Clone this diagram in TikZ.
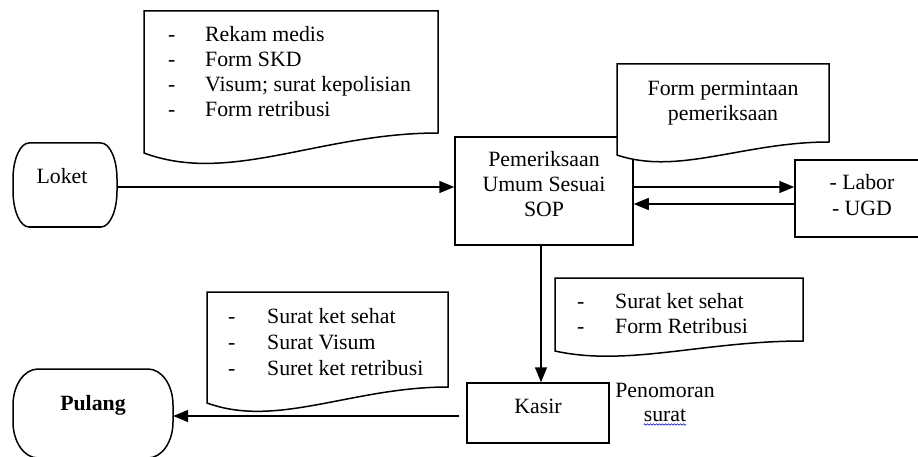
\documentclass[tikz,border=0pt]{standalone}
\usepackage{fontspec}
\setmainfont{Liberation Serif}
\usetikzlibrary{arrows.meta,decorations.pathmorphing,calc}
\begin{document}
\begin{tikzpicture}[x=1pt,y=-1pt,
  txt/.style={inner sep=0pt, font=\fontsize{21.8}{25}\selectfont},
  ctr/.style={txt, anchor=base},
  lft/.style={txt, anchor=base west},
  box/.style={draw, fill=white, line width=1.5pt, inner sep=0pt},
  ghost/.style={inner sep=0pt},
  shapeline/.style={line width=1.5pt, line join=miter, fill=white},
  arr/.style={-{Triangle[length=15pt,width=12pt]}, line width=1.5pt}]
\useasboundingbox (0,0) rectangle (918,457);
\fill[white] (0,0) rectangle (918,457);
\begin{scope}
\clip (0,0) rectangle (918,457);

% ---- Loket (terminator)
\node[ghost, minimum width=104pt, minimum height=84pt] (loket) at (65,185) {};
\draw[shapeline] (29,143) -- (101,143) .. controls (109.8,143) and (117,159.1) .. (117,179)
  -- (117,191) .. controls (117,210.9) and (109.8,227) .. (101,227)
  -- (29,227) .. controls (20.2,227) and (13,210.9) .. (13,191)
  -- (13,179) .. controls (13,159.1) and (20.2,143) .. (29,143) -- cycle;
\node[ctr] (loketT) at (62,184) {Loket};

% ---- Pulang (terminator)
\node[ghost, minimum width=160pt, minimum height=89pt] (pulang) at (93,413.5) {};
\draw[shapeline] (38,369) -- (148,369) .. controls (161.8,369) and (173,385.1) .. (173,405)
  -- (173,422) .. controls (173,441.9) and (161.8,458) .. (148,458)
  -- (38,458) .. controls (24.2,458) and (13,441.9) .. (13,422)
  -- (13,405) .. controls (13,385.1) and (24.2,369) .. (38,369) -- cycle;
\node[ctr, font=\fontsize{21.8}{25}\selectfont\bfseries] (pulangT) at (93,410) {Pulang};

% ---- Pemeriksaan
\node[box, minimum width=178pt, minimum height=108pt] (pem) at (544,191) {};
\node[ctr] (pem1) at (544,167) {Pemeriksaan};
\node[ctr] (pem2) at (544,192) {Umum Sesuai};
\node[ctr] (pem3) at (544,217) {SOP};

% ---- Labor / UGD
\node[box, minimum width=134pt, minimum height=77pt] (labor) at (862,198.5) {};
\node[ctr] (labor1) at (862,190) {- Labor};
\node[ctr] (labor2) at (862,215) {- UGD};

% ---- Kasir
\node[box, minimum width=142pt, minimum height=60pt] (kasir) at (538,413) {};
\node[ctr] (kasirT) at (538,413) {Kasir};

% ---- Penomoran surat
\node[ctr] (penom) at (665,397) {Penomoran};
\node[ctr] (surat) at (665,421) {surat};
\draw[blue!75!black, line width=0.5pt, decorate,
  decoration={snake, amplitude=0.8pt, segment length=3pt}]
  ([yshift=-3.5pt]surat.base west) -- ([yshift=-3.5pt]surat.base east);

% ---- Document 1 (top left)
\draw[shapeline] (144,11) -- (438,11) -- (438,133)
  .. controls (320,133) and (230,185) .. (144,153) -- cycle;
\foreach \yy/\tt [count=\i] in {42/Rekam medis, 67/Form SKD, 92/{Visum; surat kepolisian}, 117/Form retribusi}{
  \node[lft] (d1dash\i) at (168,\yy) {-};
  \node[lft] (d1txt\i) at (205,\yy) {\tt};
}

% ---- Document 2 (Form permintaan), drawn over the Pemeriksaan box
\draw[shapeline] (617,64) -- (829,64) -- (829,142)
  .. controls (744,142) and (678,175.8) .. (617,155) -- cycle;
\node[ctr] (d2a) at (723,96) {Form permintaan};
\node[ctr] (d2b) at (723,121) {pemeriksaan};

% ---- Document 3 (Form Retribusi)
\draw[shapeline] (555,278) -- (803,278) -- (803,341)
  .. controls (704,341) and (627,367) .. (555,351) -- cycle;
\foreach \yy/\tt [count=\i] in {308/Surat ket sehat, 333/Form Retribusi}{
  \node[lft] (d3dash\i) at (577,\yy) {-};
  \node[lft] (d3txt\i) at (615,\yy) {\tt};
}

% ---- Document 4 (bottom left)
\draw[shapeline] (207,292) -- (448,292) -- (448,387)
  .. controls (352,387) and (277,428.6) .. (207,403) -- cycle;
\foreach \yy/\tt [count=\i] in {323/Surat ket sehat, 349/Surat Visum, 375/Suret ket retribusi}{
  \node[lft] (d4dash\i) at (228,\yy) {-};
  \node[lft] (d4txt\i) at (267,\yy) {\tt};
}

% ---- Connectors
\draw[arr] ([yshift=-2pt]loket.east) -- ([yshift=-2pt]loket.east -| pem.west);
\draw[arr] ([yshift=4pt]pem.east) -- ([yshift=4pt]pem.east -| labor.west);
\draw[arr] ([yshift=-13pt]pem.east -| labor.west) -- ([yshift=-13pt]pem.east);
\draw[arr] ([xshift=-3pt]pem.south) -- ([xshift=-3pt]pem.south |- kasir.north);
\draw[arr] ([xshift=-7pt,yshift=-3pt]kasir.west) -- ([yshift=-3pt]kasir.west -| pulang.east);
\end{scope}
\end{tikzpicture}
\end{document}
